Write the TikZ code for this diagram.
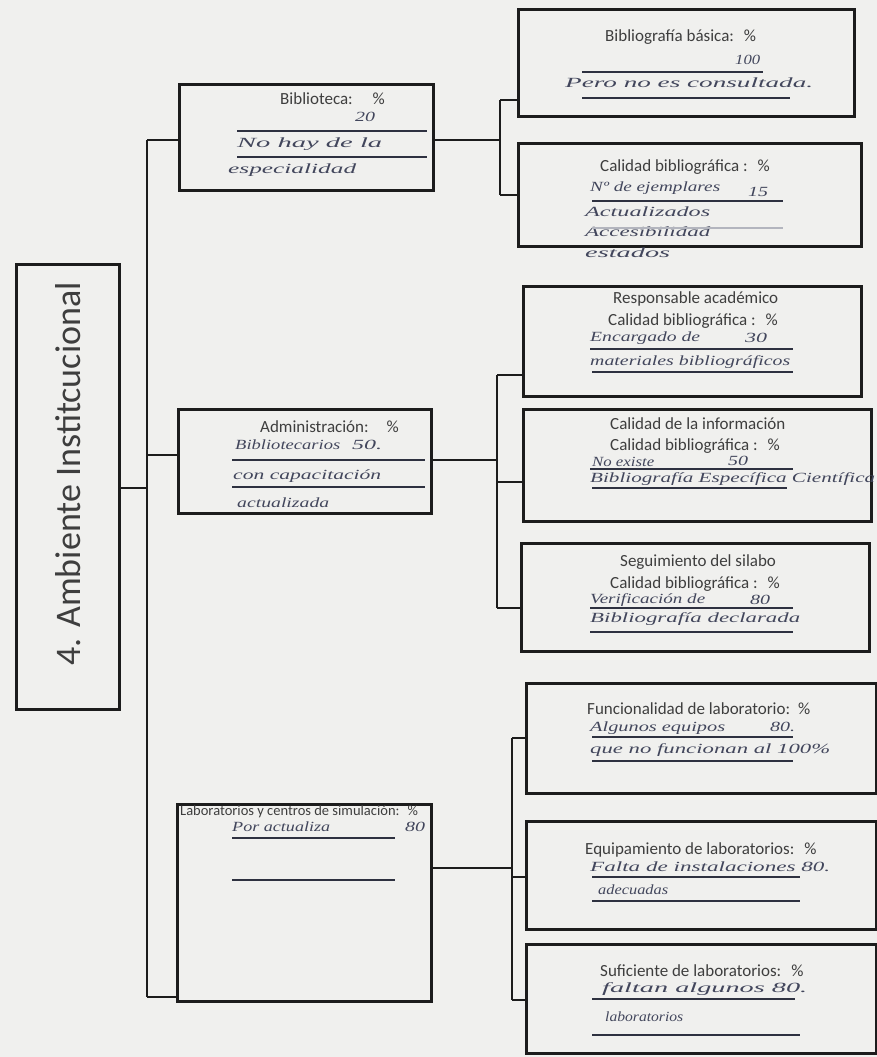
\documentclass[tikz,border=0pt]{standalone}
\usepackage{fontspec}
\setmainfont{Carlito}
\newfontfamily\handfont{Liberation Serif}
\usepackage{graphicx}
\definecolor{paper}{RGB}{240,240,238}
\definecolor{ink}{RGB}{28,28,28}
\definecolor{prt}{RGB}{62,62,62}
\definecolor{pen}{RGB}{66,70,92}
\newcommand{\hwr}[2]{\resizebox{#1pt}{\height}{#2}}
\tikzset{
  box/.style={draw=ink, line width=2.6pt, rectangle, inner sep=0pt, anchor=north west},
  conn/.style={draw=ink, line width=2.4pt},
  lbl/.style={anchor=west, inner sep=0pt, text=prt, font=\fontsize{17}{19}\selectfont},
  hw/.style={anchor=west, inner sep=0pt, text=pen, font=\handfont\itshape\fontsize{14}{16}\selectfont},
  uline/.style={draw=pen!70!black, line width=1.3pt},
}
\begin{document}
\begin{tikzpicture}[x=1pt,y=-1pt]
\fill[paper] (0,0) rectangle (877,1057);
\useasboundingbox (0,0) rectangle (877,1057);

% ---------- boxes ----------
\node[box, minimum width=103pt, minimum height=445pt] (root) at (15,263) {};
\node[rotate=90, inner sep=0pt, text=prt, font=\fontsize{36}{40}\selectfont] (root-t) at (68,474) {4. Ambiente Institcucional};

\node[box, minimum width=254pt, minimum height=106pt] (bib) at (178,83) {};
\node[box, minimum width=253pt, minimum height=104pt] (adm) at (177,408) {};
\node[box, minimum width=254pt, minimum height=197pt] (lab) at (176,803) {};

\node[box, minimum width=336pt, minimum height=107pt] (bbas) at (517,8) {};
\node[box, minimum width=343pt, minimum height=103pt] (calb) at (517,142) {};

\node[box, minimum width=338pt, minimum height=110pt] (resp) at (522,285) {};
\node[box, minimum width=348pt, minimum height=112pt] (cinf) at (522,408) {};
\node[box, minimum width=348pt, minimum height=108pt] (seg) at (520,542) {};

\node[box, minimum width=350pt, minimum height=110pt] (func) at (525,682) {};
\node[box, minimum width=350pt, minimum height=108pt] (equi) at (525,820) {};
\node[box, minimum width=350pt, minimum height=109pt] (suf) at (525,943) {};

% ---------- junction coordinates ----------
\coordinate (jt-bib) at (147,140);
\coordinate (jt-root) at (147,488);
\coordinate (jt-adm) at (147,455);
\coordinate (jt-lab) at (147,997);

\coordinate (jb-in) at (500,140);
\coordinate (jb-1) at (500,100);
\coordinate (jb-2) at (500,195);

\coordinate (ja-in) at (497,460);
\coordinate (ja-1) at (497,375);
\coordinate (ja-2) at (497,482);
\coordinate (ja-3) at (497,608);

\coordinate (jl-in) at (512,868);
\coordinate (jl-1) at (512,738);
\coordinate (jl-2) at (512,877);
\coordinate (jl-3) at (512,1000);

% ---------- connectors ----------
\draw[conn] (jt-bib) -- (jt-lab);
\draw[conn] (jt-root -| root.east) -- (jt-root);
\draw[conn] (jt-bib) -- (jt-bib -| bib.west);
\draw[conn] (jt-adm) -- (jt-adm -| adm.west);
\draw[conn] (jt-lab) -- (jt-lab -| lab.west);

\draw[conn] (jb-in -| bib.east) -- (jb-in);
\draw[conn] (jb-1) -- (jb-2);
\draw[conn] (jb-1) -- (jb-1 -| bbas.west);
\draw[conn] (jb-2) -- (jb-2 -| calb.west);

\draw[conn] (ja-in -| adm.east) -- (ja-in);
\draw[conn] (ja-1) -- (ja-3);
\draw[conn] (ja-1) -- (ja-1 -| resp.west);
\draw[conn] (ja-2) -- (ja-2 -| cinf.west);
\draw[conn] (ja-3) -- (ja-3 -| seg.west);

\draw[conn] (jl-in -| lab.east) -- (jl-in);
\draw[conn] (jl-1) -- (jl-3);
\draw[conn] (jl-1) -- (jl-1 -| func.west);
\draw[conn] (jl-2) -- (jl-2 -| equi.west);
\draw[conn] (jl-3) -- (jl-3 -| suf.west);

% ---------- Biblioteca ----------
\node[lbl] (bib-l) at (280,99) {Biblioteca:\hspace{20pt}\%};
\node[hw] (bib-n) at (355,117) {\hwr{20}{20}};
\draw[uline] (237,131) -- (427,131);
\node[hw] (bib-h1) at (237,144) {\hwr{145}{No hay de la}};
\draw[uline] (237,157) -- (427,157);
\node[hw] (bib-h2) at (228,170) {\hwr{128}{especialidad}};

% ---------- Bibliografia basica ----------
\node[lbl] (bbas-l) at (605,37) {Bibliografía básica:\hspace{10pt}\%};
\node[hw] (bbas-n) at (735,60) {\hwr{25}{100}};
\draw[uline] (582,72) -- (763,72);
\node[hw] (bbas-h1) at (565,83) {\hwr{248}{Pero no es consultada.}};
\draw[uline] (582,98) -- (790,98);

% ---------- Calidad bibliografica ----------
\node[lbl] (calb-l) at (600,167) {Calidad bibliográfica :\hspace{10pt}\%};
\node[hw] (calb-h1) at (590,188) {\hwr{130}{Nº de ejemplares}};
\node[hw] (calb-n) at (748,192) {\hwr{20}{15}};
\draw[uline] (592,201) -- (783,201);
\node[hw] (calb-h2) at (585,212) {\hwr{125}{Actualizados}};
\node[hw] (calb-h3) at (585,232) {\hwr{125}{Accesibilidad}};
\draw[uline, draw=pen!40] (592,228) -- (783,228);
\node[hw] (calb-h4) at (585,253) {\hwr{85}{estados}};

% ---------- Responsable academico ----------
\node[lbl] (resp-l1) at (613,299) {Responsable académico};
\node[lbl] (resp-l2) at (608,321) {Calidad bibliográfica :\hspace{10pt}\%};
\node[hw] (resp-h1) at (590,338) {\hwr{110}{Encargado de}};
\node[hw] (resp-n) at (745,338) {\hwr{22}{30}};
\draw[uline] (590,349) -- (793,349);
\node[hw] (resp-h2) at (590,362) {\hwr{200}{materiales bibliográficos}};
\draw[uline] (592,372) -- (793,372);

% ---------- Calidad de la informacion ----------
\node[lbl] (cinf-l1) at (610,424) {Calidad de la información};
\node[lbl] (cinf-l2) at (610,446) {Calidad bibliográfica :\hspace{10pt}\%};
\node[hw] (cinf-h1) at (592,462) {\hwr{62}{No existe}};
\node[hw] (cinf-n) at (728,461) {\hwr{20}{50}};
\draw[uline] (590,469) -- (793,469);
\node[hw] (cinf-h2) at (590,479) {\hwr{285}{Bibliografía Específica Científica}};
\draw[uline] (592,488) -- (787,488);

% ---------- Seguimiento del silabo ----------
\node[lbl] (seg-l1) at (620,562) {Seguimiento del silabo};
\node[lbl] (seg-l2) at (610,584) {Calidad bibliográfica :\hspace{10pt}\%};
\node[hw] (seg-h1) at (590,600) {\hwr{115}{Verificación de}};
\node[hw] (seg-n) at (750,600) {\hwr{20}{80}};
\draw[uline] (590,608) -- (793,608);
\node[hw] (seg-h2) at (590,619) {\hwr{210}{Bibliografía declarada}};
\draw[uline] (590,632) -- (793,632);

% ---------- Administracion ----------
\node[lbl] (adm-l) at (260,427) {Administración:\hspace{18pt}\%};
\node[hw] (adm-h1) at (235,445) {\hwr{105}{Bibliotecarios}};
\node[hw] (adm-n) at (352,445) {\hwr{30}{50.}};
\draw[uline] (232,460) -- (425,460);
\node[hw] (adm-h2) at (233,476) {\hwr{148}{con capacitación}};
\draw[uline] (232,487) -- (425,487);
\node[hw] (adm-h3) at (237,503) {\hwr{92}{actualizada}};

% ---------- Laboratorios ----------
\node[lbl, font=\fontsize{14.5}{16}\selectfont] (lab-l) at (180,812) {Laboratorios y centros de simulación:\hspace{8pt}\%};
\node[hw] (lab-h1) at (232,827) {\hwr{98}{Por actualiza}};
\node[hw] (lab-n) at (405,827) {\hwr{20}{80}};
\draw[uline] (232,838) -- (395,838);
\draw[uline] (232,880) -- (395,880);

% ---------- Funcionalidad ----------
\node[lbl] (func-l) at (587,709) {Funcionalidad de laboratorio:\hspace{8pt}\%};
\node[hw] (func-h1) at (590,728) {\hwr{135}{Algunos equipos}};
\node[hw] (func-n) at (770,727) {\hwr{25}{80.}};
\draw[uline] (592,737) -- (793,737);
\node[hw] (func-h2) at (590,750) {\hwr{240}{que no funcionan al 100\%}};
\draw[uline] (592,761) -- (793,761);

% ---------- Equipamiento ----------
\node[lbl] (equi-l) at (585,850) {Equipamiento de laboratorios:\hspace{10pt}\%};
\node[hw] (equi-h1) at (590,867) {\hwr{240}{Falta de instalaciones 80.}};
\draw[uline] (592,877) -- (800,877);
\node[hw] (equi-h2) at (598,890) {\hwr{70}{adecuadas}};
\draw[uline] (592,901) -- (800,901);

% ---------- Suficiente ----------
\node[lbl] (suf-l) at (600,971) {Suficiente de laboratorios:\hspace{10pt}\%};
\node[hw] (suf-h1) at (602,989) {\hwr{205}{faltan algunos 80.}};
\draw[uline] (592,999) -- (795,999);
\node[hw] (suf-h2) at (605,1017) {\hwr{78}{laboratorios}};
\draw[uline] (592,1035) -- (800,1035);
\end{tikzpicture}
\end{document}
